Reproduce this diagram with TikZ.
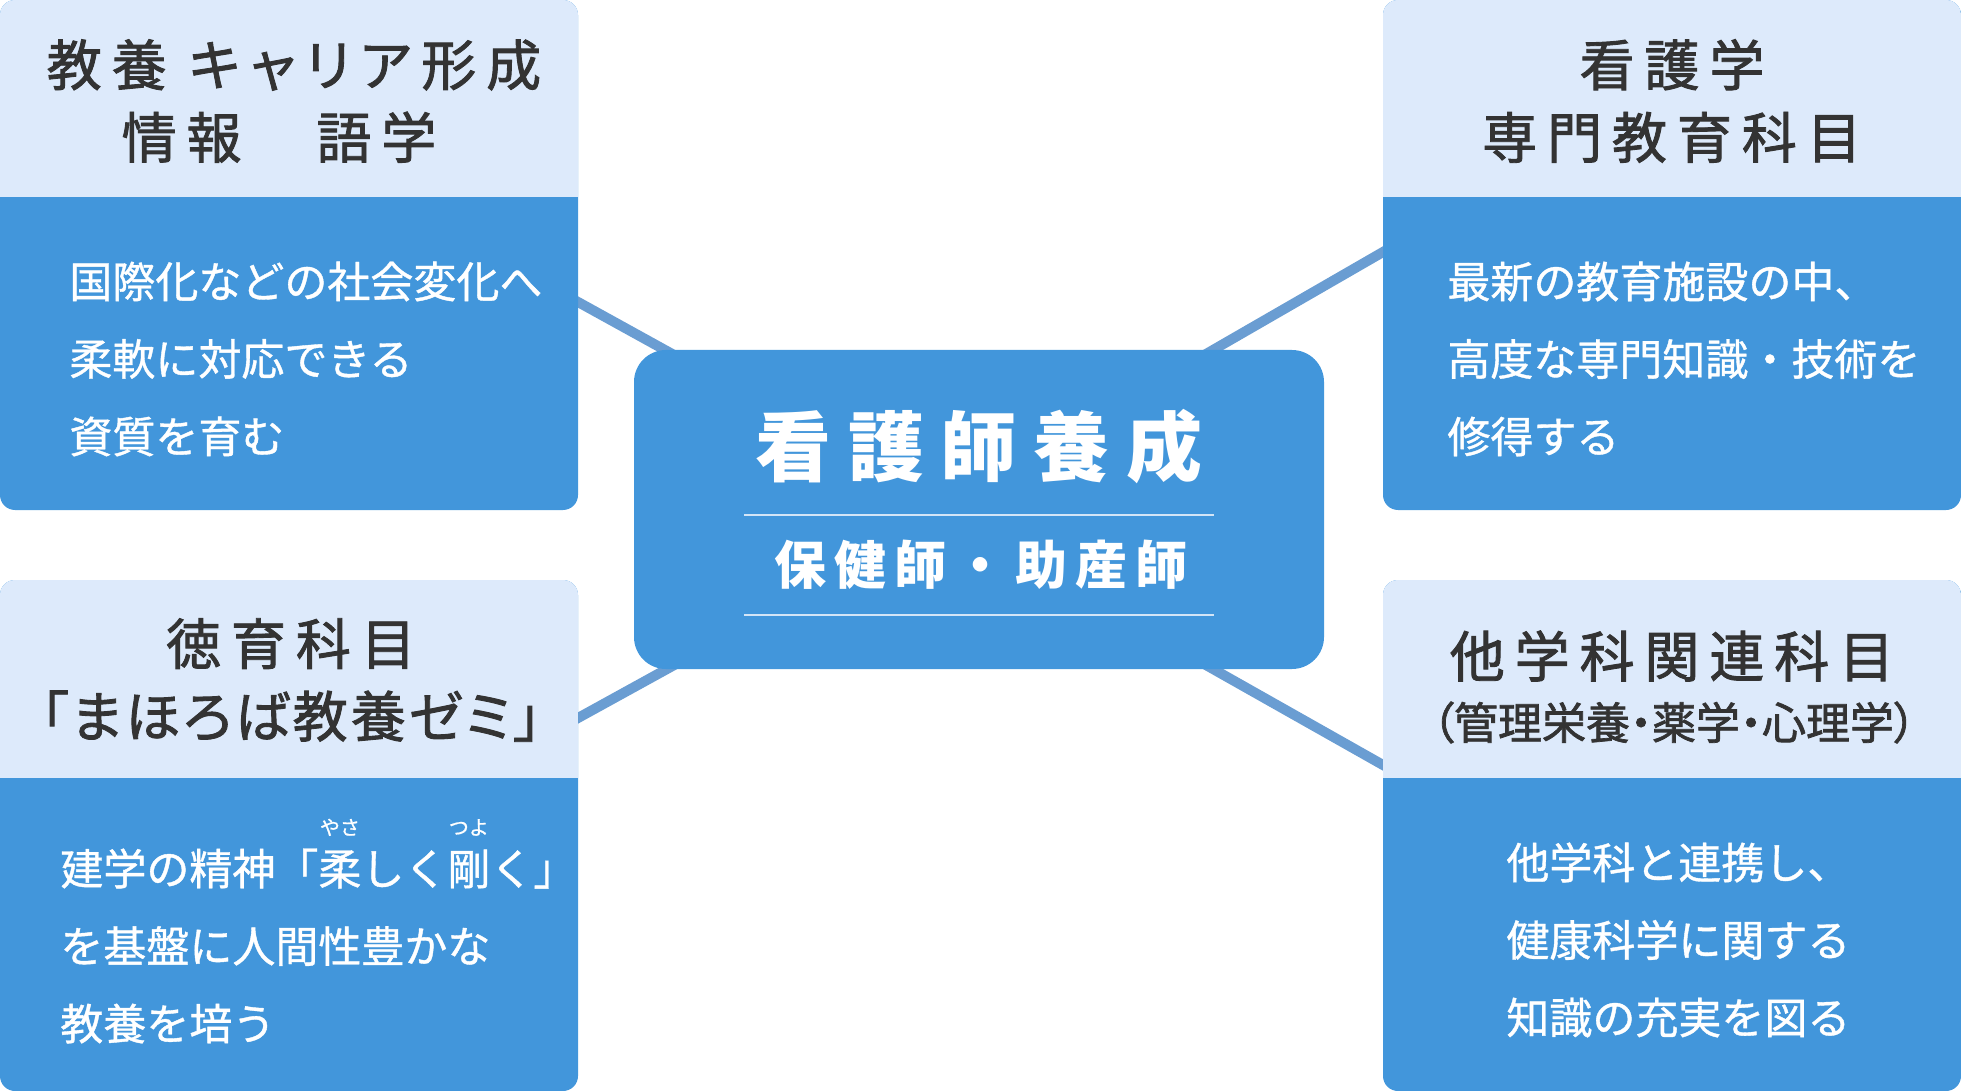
\documentclass[tikz,border=0pt]{standalone}
\usepackage{fontspec}
\setmainfont{Noto Sans CJK JP}
\newfontfamily\headfont{Noto Sans CJK JP}[LetterSpace=18,RawFeature=+palt,FakeBold=1.6]
\newfontfamily\paltfont{Noto Sans CJK JP}[RawFeature=+palt,FakeBold=1.6]
\newfontfamily\seminarfont{Noto Sans CJK JP}[LetterSpace=5.5,RawFeature=+palt,FakeBold=1.6]
\newfontfamily\bodyfont{Noto Sans CJK JP}[FakeBold=0.9]
\newfontfamily\titlefont{Noto Sans CJK JP}[LetterSpace=22]
\newfontfamily\subfont{Noto Sans CJK JP}[LetterSpace=16]
\usetikzlibrary{positioning,backgrounds}

\definecolor{cardblue}{HTML}{4296DB}
\definecolor{headfill}{HTML}{DDEAFB}
\definecolor{linkblue}{HTML}{6A9DD2}
\definecolor{inkgray}{HTML}{333333}
\definecolor{rulefill}{HTML}{D3E5F7}

\newcommand{\furi}[2]{\leavevmode\setbox0\hbox{#1}\rlap{\raisebox{25pt}[0pt][0pt]{\makebox[\wd0]{\fontsize{10pt}{10pt}\selectfont #2}}}\box0}

\tikzset{
	card/.style={fill=cardblue, rounded corners=7.5pt, minimum width=289pt, minimum height=255pt, inner sep=0pt, outer sep=0pt, anchor=north west},
	hub/.style={fill=cardblue, rounded corners=16pt, minimum width=345pt, minimum height=159.5pt, inner sep=0pt, outer sep=0pt},
	headtext/.style={text=inkgray, font=\headfont\fontsize{27.5pt}{36.25pt}\selectfont, align=center, inner sep=0pt},
	bodytext/.style={text=white, font=\bodyfont\fontsize{21.5pt}{38.75pt}\selectfont, align=left, inner sep=0pt, anchor=west},
	link/.style={draw=linkblue, line width=5pt, shorten <=-6pt, shorten >=-8pt},
	hubrule/.style={draw=rulefill, line width=1pt}
}

\begin{document}
\begin{tikzpicture}[x=1pt, y=1pt]
	\useasboundingbox (0,0) rectangle (980.5,-545.5);
	
	\node[card] (tl) at (0,0) {};
	\node[card] (tr) at (691.5,0) {};
	\node[card, minimum height=255.5pt] (bl) at (0,-290) {};
	\node[card, minimum height=255.5pt] (br) at (691.5,-290) {};
	\node[hub] (hub) at (489.5,-254.75) {};
	
	\foreach \c in {tl,tr,bl,br}
	{
		\begin{scope}
			\clip[rounded corners=7.5pt] (\c.north west) rectangle (\c.south east);
			\fill[headfill] (\c.north west) rectangle ([yshift=-98.75pt]\c.north east);
		\end{scope}
	}
	
	\begin{scope}[on background layer]
		\draw[link] ([yshift=-151pt]tl.north east) -- ([xshift=15.5pt]hub.north west);
		\draw[link] ([yshift=-126pt]tr.north west) -- ([xshift=-55.5pt]hub.north east);
		\draw[link] ([yshift=-69pt]bl.north east) -- ([xshift=16.5pt]hub.south west);
		\draw[link] ([yshift=-92.5pt]br.north west) -- ([xshift=-55.5pt]hub.south east);
	\end{scope}
	
	\node[headtext] (tlhead) at ([xshift=2.5pt, yshift=-50.5pt]tl.north) {教養 キャリア形成\\情報　語学\hspace*{15pt}};
	\node[headtext] (trhead) at ([yshift=-50.5pt]tr.north) {看護学\\専門教育科目};
	\node[headtext] (blhead) at ([xshift=1pt, yshift=-50pt]bl.north) {徳育科目\\{\seminarfont\fontsize{27.5pt}{36.25pt}\selectfont 「まほろば教養ゼミ」}};
	\node[headtext] (brhead) at ([yshift=-38pt]br.north) {他学科関連科目};
	\node[text=inkgray, font=\paltfont\fontsize{22pt}{22pt}\selectfont, inner sep=0pt] (brsub) at ([xshift=1pt, yshift=-71.25pt]br.north) {（管理栄養・薬学・心理学）};
	
	\node[bodytext] (tlbody) at ([xshift=34.5pt, yshift=-179.5pt]tl.north west) {国際化などの社会変化へ\\柔軟に対応できる\\資質を育む};
	\node[bodytext] (trbody) at ([xshift=32pt, yshift=-179.5pt]tr.north west) {最新の教育施設の中、\\高度な専門知識・技術を\\修得する};
	\node[bodytext] (blbody) at ([xshift=30pt, yshift=-183pt]bl.north west) {建学の精神「\furi{柔}{やさ}しく\furi{剛}{つよ}く」\\を基盤に人間性豊かな\\教養を培う};
	\node[bodytext] (brbody) at ([xshift=61.5pt, yshift=-180pt]br.north west) {他学科と連携し、\\健康科学に関する\\知識の充実を図る};
	
	\node[text=white, font=\titlefont\bfseries\fontsize{38pt}{38pt}\selectfont, inner sep=0pt] (title) at ([yshift=-48.5pt]hub.north) {看護師養成};
	\draw[hubrule] ([xshift=-117.5pt, yshift=-82.5pt]hub.north) -- ([xshift=117.5pt, yshift=-82.5pt]hub.north);
	\node[text=white, font=\subfont\bfseries\fontsize{26pt}{26pt}\selectfont, inner sep=0pt] (subtitle) at ([xshift=1pt, yshift=-107.5pt]hub.north) {保健師・助産師};
	\draw[hubrule] ([xshift=-117.5pt, yshift=-132.5pt]hub.north) -- ([xshift=117.5pt, yshift=-132.5pt]hub.north);
	
\end{tikzpicture}
\end{document}
